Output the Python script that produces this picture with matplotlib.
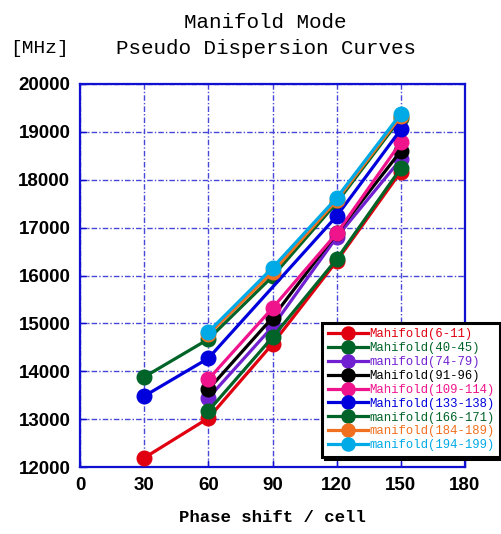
import numpy as np
import matplotlib
matplotlib.use("Agg")
import matplotlib.pyplot as plt

# Phase shift per cell [deg]
phase = [30, 60, 90, 120, 150]
nan = np.nan

# Frequencies [MHz] for each manifold cell group
series_labels = [
    "Mahifold(6-11)", "Mahifold(40-45)", "manifold(74-79)",
    "Mahifold(91-96)", "Mahifold(109-114)", "Mahifold(133-138)",
    "manifold(166-171)", "manifold(184-189)", "manifold(194-199)",
]
f_6_11 = [12190, 13020, 14570, 16300, 18170]
f_40_45 = [13880, 14670, 15980, 17520, 19290]
f_74_79 = [nan, 13440, 14930, 16800, 18430]
f_91_96 = [nan, 13620, 15120, 16880, 18600]
f_109_114 = [nan, 13830, 15320, 16880, 18780]
f_133_138 = [13480, 14270, nan, 17240, 19050]
f_166_171 = [nan, 13170, 14710, 16340, 18240]
f_184_189 = [nan, 14770, 16070, 17570, 19330]
f_194_199 = [nan, 14820, 16160, 17620, 19380]

series = [f_6_11, f_40_45, f_74_79, f_91_96, f_109_114,
          f_133_138, f_166_171, f_184_189, f_194_199]
colors = ["#E00010", "#006428", "#7020D0", "#000000", "#F0148C",
          "#0000DC", "#006428", "#F07020", "#00AAE6"]

x_ticks = [0, 30, 60, 90, 120, 150, 180]
y_ticks = [12000, 13000, 14000, 15000, 16000, 17000, 18000, 19000, 20000]

mono = ["Liberation Mono", "DejaVu Sans Mono"]

fig = plt.figure(figsize=(5.01, 5.34), dpi=100)
ax = fig.add_axes([80 / 501, 1 - 467 / 534, 385 / 501, 383 / 534])

for vals, col, lab in zip(series, colors, series_labels):
    x = np.array(phase, dtype=float)
    y = np.array(vals, dtype=float)
    m = ~np.isnan(y)
    ax.plot(x[m], y[m], color=col, lw=2.3, marker="o", ms=10.5,
            mec=col, mfc=col, label=lab, zorder=3)

ax.set_xlim(0, 180)
ax.set_ylim(12000, 20000)
ax.set_xticks(x_ticks)
ax.set_yticks(y_ticks)
ax.grid(True, color="#4848D8", ls=(0, (4, 1.5, 1, 1.5)), lw=1.0)
ax.set_axisbelow(True)
for s in ax.spines.values():
    s.set_color("#1010D0")
    s.set_linewidth(1.6)
ax.tick_params(direction="in", length=5, width=1, color="#1010D0", pad=7)
for lab in ax.get_xticklabels() + ax.get_yticklabels():
    lab.set_fontfamily("Liberation Sans")
    lab.set_fontweight("bold")
    lab.set_fontsize(13.5)

ax.set_xlabel("Phase shift / cell", fontfamily=mono, fontweight="bold",
              fontsize=12.5, labelpad=12)

fig.text(0.53, 0.958, "Manifold Mode", ha="center", va="center",
         fontfamily=mono, fontsize=15)
fig.text(0.53, 0.910, "Pseudo Dispersion Curves", ha="center", va="center",
         fontfamily=mono, fontsize=15)
fig.text(10 / 501, 0.910, "[MHz]", ha="left", va="center",
         fontfamily=mono, fontsize=14)

leg = ax.legend(loc="upper left", bbox_to_anchor=(322 / 501, 1 - 323 / 534),
                bbox_transform=fig.transFigure, prop={"family": mono, "size": 8.8},
                frameon=True, fancybox=False, shadow={"color": "black", "alpha": 1},
                handlelength=3.3, handletextpad=0.1, labelspacing=0.15,
                borderpad=0.45, borderaxespad=0, markerscale=0.9)
leg.get_frame().set_edgecolor("black")
leg.get_frame().set_linewidth(2.2)
leg.set_zorder(10)
for txt, col in zip(leg.get_texts(), colors):
    txt.set_color(col)

fig.savefig("out.png", dpi=100)
